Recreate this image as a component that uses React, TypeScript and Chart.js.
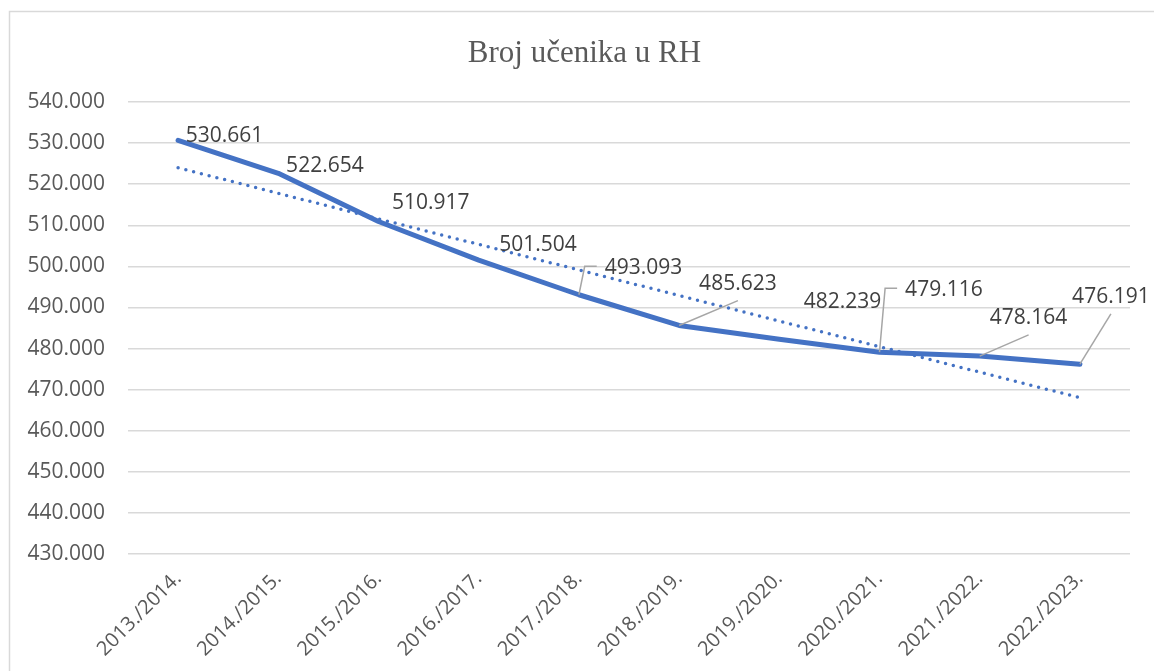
import React, { useEffect, useRef } from "react";
import { Chart, registerables } from "chart.js";

Chart.register(...registerables);

const categories = [
  "2013./2014.", "2014./2015.", "2015./2016.", "2016./2017.", "2017./2018.",
  "2018./2019.", "2019./2020.", "2020./2021.", "2021./2022.", "2022./2023.",
];
const students = [530661, 522654, 510917, 501504, 493093, 485623, 482239, 479116, 478164, 476191];
// linear trendline endpoints (first and last category)
const trendValues = [523996, null, null, null, null, null, null, null, null, 468036];
const yMin = 430000;
const yMax = 540000;
const yStep = 10000;
const title = "Broj učenika u RH";

// label layout: [dx, dy, leader] relative to the point
const labelLayout: [number, number, string][] = [
  [46.5, -6, ""],
  [46.6, -9, ""],
  [52.3, -20.3, ""],
  [59.3, -17, ""],
  [64.6, -28.4, "side"],
  [58.8, -42.9, "below"],
  [63.3, -38.8, ""],
  [64.4, -64, "side"],
  [48.9, -39.3, "below"],
  [31, -68.4, "below"],
];

const FONT = '"Open Sans", sans-serif';
const fmt = (v: number) => {
  const s = Math.round(v).toString();
  return s.replace(/\B(?=(\d{3})+(?!\d))/g, ".");
};

const framePlugin = {
  id: "frame",
  beforeDraw(chart: any) {
    const ctx = chart.ctx;
    ctx.save();
    ctx.fillStyle = "#ffffff";
    ctx.fillRect(0, 0, chart.width, chart.height);
    ctx.strokeStyle = "#d9d9d9";
    ctx.lineWidth = 1.5;
    ctx.beginPath();
    ctx.moveTo(9.5, chart.height);
    ctx.lineTo(9.5, 11.5);
    ctx.lineTo(chart.width, 11.5);
    ctx.stroke();
    ctx.fillStyle = "#595959";
    ctx.font = '31px "Liberation Serif", "Times New Roman", serif';
    ctx.textAlign = "center";
    ctx.textBaseline = "alphabetic";
    ctx.fillText(title, 584.5, 62);
    ctx.restore();
  },
};

const labelPlugin = {
  id: "valueLabels",
  afterDatasetsDraw(chart: any) {
    const ctx = chart.ctx;
    const meta = chart.getDatasetMeta(0);
    const fs = 21;
    ctx.save();
    ctx.font = `${fs}px ${FONT}`;
    ctx.textAlign = "center";
    ctx.textBaseline = "alphabetic";
    meta.data.forEach((pt: any, i: number) => {
      const [dx, dy, leader] = labelLayout[i];
      const px = pt.x;
      const py = pt.y;
      const cx = px + dx;
      const cy = py + dy;
      const text = fmt(students[i]);
      const w = ctx.measureText(text).width;
      const left = cx - w / 2;
      const bottom = cy + 0.36 * fs;
      ctx.strokeStyle = "#a6a6a6";
      ctx.lineWidth = 1.5;
      if (leader === "side") {
        ctx.beginPath();
        ctx.moveTo(px, py);
        ctx.lineTo(left - 20, cy);
        ctx.lineTo(left - 8, cy);
        ctx.stroke();
      } else if (leader === "below") {
        ctx.beginPath();
        ctx.moveTo(px, py);
        ctx.lineTo(cx, bottom + 10.5);
        ctx.stroke();
      }
      ctx.fillStyle = "#404040";
      ctx.fillText(text, cx, cy + 0.36 * fs);
    });
    ctx.restore();
  },
};

export default function App() {
  const ref = useRef<HTMLCanvasElement | null>(null);
  useEffect(() => {
    if (!ref.current) return;
    const chart = new Chart(ref.current, {
      type: "line",
      data: {
        labels: categories,
        datasets: [
          {
            label: "Broj učenika",
            data: students,
            borderColor: "#4472C4",
            backgroundColor: "#4472C4",
            borderWidth: 5,
            borderCapStyle: "round",
            borderJoinStyle: "round",
            pointRadius: 0,
            tension: 0,
            order: 1,
          },
          {
            label: "Trend",
            data: trendValues,
            borderColor: "#4472C4",
            borderWidth: 3.5,
            borderDash: [0, 8],
            borderCapStyle: "round",
            pointRadius: 0,
            spanGaps: true,
            tension: 0,
            order: 0,
          },
        ],
      },
      options: {
        responsive: false,
        animation: false,
        layout: { padding: { top: 102, left: 0, right: 24, bottom: 0 } },
        plugins: {
          legend: { display: false },
          title: { display: false },
          tooltip: { enabled: false },
        },
        scales: {
          x: {
            offset: true,
            grid: { display: false },
            border: { display: false },
            ticks: {
              minRotation: 45,
              maxRotation: 45,
              autoSkip: false,
              padding: 5,
              color: "#595959",
              font: { family: FONT, size: 20 },
            },
            afterFit: (s: any) => {
              s.height = 117;
            },
          },
          y: {
            min: yMin,
            max: yMax,
            grid: { color: "#d9d9d9", lineWidth: 1.5, drawTicks: false },
            border: { display: false },
            ticks: {
              stepSize: yStep,
              padding: 23,
              color: "#595959",
              font: { family: FONT, size: 21 },
              callback: (v: any) => fmt(Number(v)),
            },
            afterFit: (s: any) => {
              s.width = 128;
            },
          },
        },
      },
      plugins: [framePlugin, labelPlugin],
    });
    return () => chart.destroy();
  }, []);
  return (
    <div style={{ position: "fixed", left: 0, top: 0, width: 1154, height: 671, background: "#fff" }}>
      <canvas ref={ref} width={1154} height={671} style={{ display: "block" }} />
    </div>
  );
}
